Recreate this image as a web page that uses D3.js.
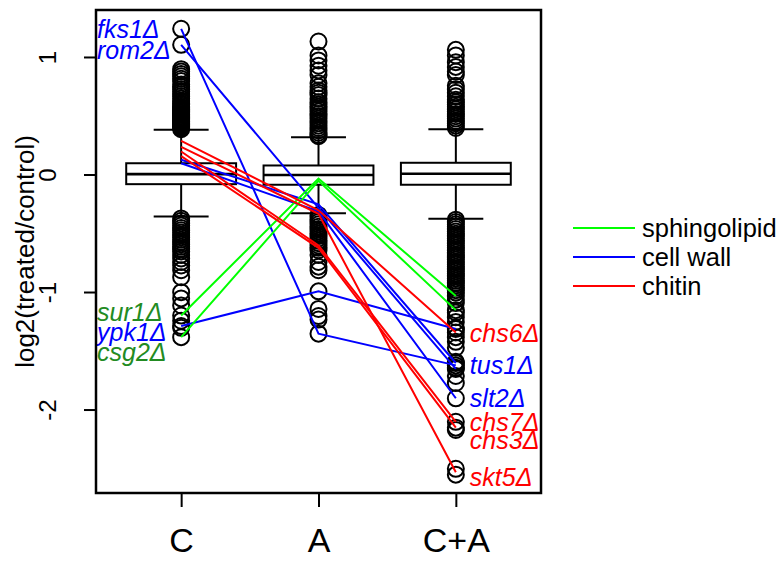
<!DOCTYPE html>
<html><head><meta charset="utf-8">
<script src="https://cdn.jsdelivr.net/npm/d3@7"></script>
<style>body{margin:0;background:#fff}svg{display:block}text{font-family:"Liberation Sans",Arial,sans-serif}</style>
</head><body><div id="chart"></div>
<script>
// ---- data ----
const categories = ["C", "A", "C+A"];
const yTicks = [-2, -1, 0, 1];
// box stats: [lowerWhisker, q1, median, q3, upperWhisker]
const boxC  = [-0.353, -0.078, 0.007, 0.100, 0.385];
const boxA  = [-0.325, -0.083, 0.000, 0.081, 0.322];
const boxCA = [-0.373, -0.083, 0.010, 0.104, 0.390];
const outliersC = [1.244, 1.108, 0.90, 0.88, 0.86, 0.84, 0.82, 0.80, 0.77, 0.75, 0.73, 0.71, 0.69, 0.67, 0.65, 0.63, 0.61, 0.60, 0.58, 0.57, 0.56, 0.55, 0.54, 0.53, 0.52, 0.51, 0.50, 0.49, 0.48, 0.47, 0.46, 0.45, 0.44, 0.43, 0.42, 0.41, 0.40, 0.39,
  -0.37, -0.39, -0.41, -0.43, -0.45, -0.47, -0.49, -0.51, -0.53, -0.55, -0.57, -0.59, -0.61, -0.63, -0.65, -0.68, -0.71, -0.74, -0.77, -0.81, -0.87, -0.997, -1.05, -1.11, -1.196, -1.24, -1.285, -1.30, -1.38];
const outliersA = [1.136, 1.017, 0.975, 0.93, 0.89, 0.85, 0.78, 0.75, 0.72, 0.70, 0.68, 0.65, 0.62, 0.60, 0.58, 0.56, 0.54, 0.52, 0.50, 0.48, 0.46, 0.44, 0.42, 0.40, 0.38, 0.36, 0.34, 0.33,
  -0.34, -0.36, -0.38, -0.40, -0.42, -0.44, -0.46, -0.48, -0.50, -0.52, -0.54, -0.56, -0.58, -0.60, -0.62, -0.64, -0.68, -0.74, -0.78, -0.81, -0.99, -1.14, -1.20, -1.23, -1.35];
const outliersCA = [1.065, 1.017, 0.96, 0.92, 0.88, 0.85, 0.76, 0.73, 0.70, 0.67, 0.64, 0.62, 0.60, 0.58, 0.56, 0.54, 0.52, 0.50, 0.48, 0.46, 0.44, 0.42, 0.40,
  -0.38, -0.40, -0.42, -0.44, -0.46, -0.48, -0.50, -0.52, -0.54, -0.56, -0.58, -0.60, -0.62, -0.64, -0.66, -0.68, -0.70, -0.72, -0.74, -0.76, -0.78, -0.80, -0.82, -0.84, -0.86, -0.88, -0.90, -0.92, -0.94, -0.96, -0.98, -1.00, -1.03, -1.06, -1.09, -1.15, -1.17, -1.21, -1.25, -1.30, -1.31, -1.34, -1.38, -1.42, -1.47, -1.59, -1.60, -1.62, -1.64, -1.65, -1.71, -1.77, -1.90, -2.10, -2.15, -2.17, -2.50, -2.55];

const genes      = ["fks1", "rom2", "ypk1", "tus1", "slt2", "sur1", "csg2", "chs6", "chs7", "chs3", "skt5"];
const geneGroup  = ["cell wall", "cell wall", "cell wall", "cell wall", "cell wall", "sphingolipid", "sphingolipid", "chitin", "chitin", "chitin", "chitin"];
const geneC      = [1.244, 1.108, -1.285, 0.13, 0.10, -1.196, -1.38, 0.29, 0.20, 0.16, 0.24];
const geneA      = [-1.35, -0.28, -0.99, -0.25, -0.31, -0.03, -0.05, -0.30, -0.60, -0.62, -0.33];
const geneCA     = [-1.62, -1.65, -1.31, -1.60, -1.90, -1.03, -1.15, -1.34, -2.10, -2.15, -2.53];
// label side and label anchor value (data units)
const labelSide  = ["left", "left", "left", "right", "right", "left", "left", "right", "right", "right", "right"];
const labelY     = [1.243, 1.064, -1.334, -1.617, -1.898, -1.163, -1.504, -1.345, -2.10, -2.255, -2.568];

const legendNames = ["sphingolipid", "cell wall", "chitin"];
const lineColors  = {"sphingolipid": "#00FF00", "cell wall": "#0000FF", "chitin": "#FF0000"};
const textColors  = {"sphingolipid": "#228B22", "cell wall": "#0000FF", "chitin": "#FF0000"};

// ---- layout ----
const W = 784, H = 562;
const L = 96, R = 541, T = 10, B = 493;
const svg = d3.select("#chart").append("svg").attr("width", W).attr("height", H);

const x = d3.scaleLinear().domain([0.38, 3.62]).range([L, R]);
const y = d3.scaleLinear().domain([-2.706, 1.404]).range([B, T]);
const bw = x(1.4) - x(1); // half box width
const cw = bw / 2;        // half staple width

const boxes = [boxC, boxA, boxCA];
const outs = [outliersC, outliersA, outliersCA];

// boxes
boxes.forEach((b, i) => {
  const cx = x(i + 1);
  const g = svg.append("g").attr("stroke", "#000").attr("fill", "none").attr("stroke-width", 2);
  g.append("line").attr("x1", cx).attr("x2", cx).attr("y1", y(b[0])).attr("y2", y(b[1]));
  g.append("line").attr("x1", cx).attr("x2", cx).attr("y1", y(b[3])).attr("y2", y(b[4]));
  g.append("line").attr("x1", cx - cw).attr("x2", cx + cw).attr("y1", y(b[0])).attr("y2", y(b[0]));
  g.append("line").attr("x1", cx - cw).attr("x2", cx + cw).attr("y1", y(b[4])).attr("y2", y(b[4]));
  g.append("rect").attr("x", cx - bw).attr("width", 2 * bw).attr("y", y(b[3])).attr("height", y(b[1]) - y(b[3])).attr("fill", "#fff");
  g.append("line").attr("x1", cx - bw).attr("x2", cx + bw).attr("y1", y(b[2])).attr("y2", y(b[2])).attr("stroke-width", 2.6);
});

// outliers
outs.forEach((arr, i) => {
  svg.append("g").selectAll("circle").data(arr).join("circle")
    .attr("cx", x(i + 1)).attr("cy", d => y(d)).attr("r", 8)
    .attr("fill", "none").attr("stroke", "#000").attr("stroke-width", 2);
});

// gene lines
const line = d3.line().x(d => x(d[0])).y(d => y(d[1]));
genes.forEach((g, i) => {
  svg.append("path").attr("d", line([[1, geneC[i]], [2, geneA[i]], [3, geneCA[i]]]))
    .attr("fill", "none").attr("stroke", lineColors[geneGroup[i]]).attr("stroke-width", 2);
});

// gene labels
genes.forEach((g, i) => {
  svg.append("text")
    .attr("x", labelSide[i] === "left" ? L + 1 : x(3) + 14)
    .attr("y", y(labelY[i]))
    .attr("dy", "0.36em")
    .attr("font-size", 25).attr("font-style", "italic")
    .attr("fill", textColors[geneGroup[i]])
    .text(g + "\u0394");
});

// frame
svg.append("rect").attr("x", L).attr("y", T).attr("width", R - L).attr("height", B - T)
  .attr("fill", "none").attr("stroke", "#000").attr("stroke-width", 2.5);

// y axis
const yAxis = svg.append("g").attr("transform", `translate(${L},0)`)
  .call(d3.axisLeft(y).tickValues(yTicks).tickSize(12).tickFormat(d => String(d)));
yAxis.select(".domain").attr("stroke-width", 2).attr("d", `M-0,${y(1)}V${y(-2)}`);
yAxis.selectAll(".tick").attr("transform", null);
yAxis.selectAll(".tick line").attr("stroke-width", 2).attr("y1", d => y(d)).attr("y2", d => y(d));
yAxis.selectAll(".tick text").attr("font-size", 24).attr("fill", "#000")
  .attr("font-family", "Liberation Sans, Arial, sans-serif")
  .attr("text-anchor", "middle").attr("dy", 0)
  .attr("transform", "rotate(-90)")
  .attr("x", d => -y(d)).attr("y", -40);

// x axis
const xAxis = svg.append("g").attr("transform", `translate(0,${B})`)
  .call(d3.axisBottom(x).tickValues([1, 2, 3]).tickSize(14).tickFormat(d => categories[d - 1]));
xAxis.select(".domain").remove();
xAxis.selectAll(".tick line").attr("stroke-width", 2);
xAxis.selectAll(".tick text").attr("font-size", 34).attr("fill", "#000").attr("dy", 0).attr("y", 59)
  .attr("font-family", "Liberation Sans, Arial, sans-serif");

// y title
svg.append("text").attr("transform", `translate(34,${(T + B) / 2}) rotate(-90)`)
  .attr("text-anchor", "middle").attr("font-size", 26).text("log2(treated/control)");

// legend
const leg = svg.append("g");
legendNames.forEach((n, i) => {
  const yy = 228 + i * 29;
  leg.append("line").attr("x1", 573).attr("x2", 635).attr("y1", yy).attr("y2", yy)
    .attr("stroke", lineColors[n]).attr("stroke-width", 2);
  leg.append("text").attr("x", 642).attr("y", yy).attr("dy", "0.36em").attr("font-size", 25.5).text(n);
});
</script></body></html>
